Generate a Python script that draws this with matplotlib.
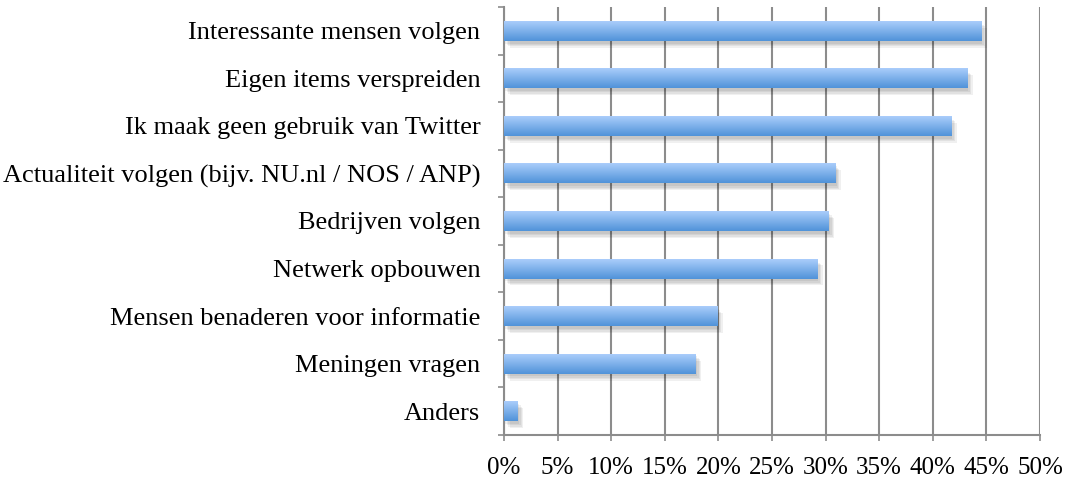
import numpy as np
import matplotlib.pyplot as plt
import matplotlib.patheffects as pe
from matplotlib.colors import LinearSegmentedColormap
from matplotlib.ticker import FixedLocator

categories = [
    "Interessante mensen volgen",
    "Eigen items verspreiden",
    "Ik maak geen gebruik van Twitter",
    "Actualiteit volgen (bijv. NU.nl / NOS / ANP)",
    "Bedrijven volgen",
    "Netwerk opbouwen",
    "Mensen benaderen voor informatie",
    "Meningen vragen",
    "Anders",
]
values = [44.5, 43.2, 41.7, 30.9, 30.3, 29.2, 19.9, 17.9, 1.3]
xticks = [0, 5, 10, 15, 20, 25, 30, 35, 40, 45, 50]

plt.rcParams["font.family"] = ["Liberation Serif", "DejaVu Serif"]

fig = plt.figure(figsize=(10.65, 4.79), dpi=100)
ax = fig.add_axes([0.4732, 0.0919, 0.5033, 0.8935])

# soft shadow: several faint offset copies
shadow = [pe.SimplePatchShadow(offset=(d, -d - 1), shadow_rgbFace="#000000", alpha=0.06)
          for d in (1, 2, 3, 4)]

y = np.arange(len(categories))
bars = ax.barh(y, values, height=0.42, color="#7aafe9", zorder=3,
               path_effects=shadow + [pe.Normal()])

# gradient fill for each bar, light on top, darker at the bottom
cmap = LinearSegmentedColormap.from_list("bar", ["#aacdfb", "#5093d9"])
grad = np.linspace(0, 1, 100).reshape(-1, 1)
for b in bars:
    x0, y0 = b.get_x(), b.get_y()
    w, h = b.get_width(), b.get_height()
    im = ax.imshow(grad, cmap=cmap, aspect="auto", origin="lower",
                   extent=[x0, x0 + w, y0, y0 + h], zorder=4)
    im.set_clip_path(b)

ax.set_xlim(0, 50)
ax.set_ylim(len(categories) - 0.5, -0.5)

ax.set_xticks(xticks)
ax.set_xticklabels([f"{t}%" for t in xticks])
ax.set_yticks(y)
ax.set_yticklabels(categories)
ax.yaxis.set_minor_locator(FixedLocator(np.arange(-0.5, len(categories), 1)))

ax.tick_params(axis="y", which="major", length=0, pad=17, labelsize=19)
ax.tick_params(axis="y", which="minor", length=4, width=1.2, color="#8c8c8c")
ax.tick_params(axis="x", length=4, width=1.2, color="#8c8c8c", pad=12, labelsize=18)

ax.grid(axis="x", color="#8c8c8c", linewidth=1.5, zorder=0)
ax.set_axisbelow(True)
for s in ["top", "right"]:
    ax.spines[s].set_visible(False)
for s in ["left", "bottom"]:
    ax.spines[s].set_color("#8c8c8c")
    ax.spines[s].set_linewidth(1.5)

fig.savefig("out.png", dpi=100)
